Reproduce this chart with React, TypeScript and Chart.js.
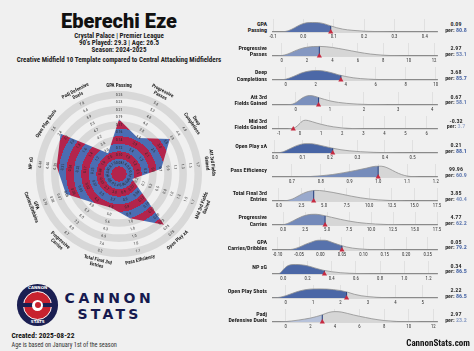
import React, { useEffect, useRef } from "react";
import { Chart, registerables } from "chart.js";

Chart.register(...registerables);

const FONT = '"Liberation Sans Narrow", "Roboto Condensed", "DejaVu Sans Condensed", Roboto, sans-serif';
const BG = "#f0f0f0";
const RING_GRAY = "#d8d8d8";
const RADAR_RED = "#b3244c";
const RADAR_BLUE = "#4b6db2";
const MARKER_RED = "#c62a40";
const CURVE_GRAY = "#d6d6d6";

// ---------------- radar data ----------------
const radarLabels = [
  "GPA Passing", "Progressive\nPasses", "Deep\nCompletions", "Att 3rd Fields\nGained",
  "Mid 3rd Fields\nGained", "Open Play xA", "Pass Efficiency", "Total Final 3rd\nEntries",
  "Progressive\nCarries", "GPA\nCarries/Dribbles", "NP xG", "Open Play Shots", "Padj Defensive\nDuels",
];
// position of the polygon on each axis (0 = centre circle edge, 100 = outer ring)
const radarPositions = [62.5, 43.7, 71.9, 46.4, 8.8, 79.9, 50.4, 35.6, 41, 65.2, 73.2, 84, 20.9];
// ring label range for each axis (innermost ring label .. outermost ring label)
const ringInner = [0.08, 1.4, 0.8, -0.1, -0.4, 0.04, 0.83, 2.4, 2.0, -0.02, 0.04, 0.8, 1.9];
const ringOuter = [0.25, 5.8, 4.8, 1.7, 1.7, 0.28, 1.06, 8.2, 8.7, 0.10, 0.44, 2.6, 7.0];
const ringDecimals = [2, 1, 1, 1, 1, 2, 1, 1, 1, 2, 2, 1, 1];
const RING_COUNT = 10;

// ---------------- distribution rows ----------------
const rowLabels = [
  "GPA\nPassing", "Progressive\nPasses", "Deep\nCompletions", "Att 3rd\nFields Gained",
  "Mid 3rd\nFields Gained", "Open Play xA", "Pass Efficiency", "Total Final 3rd\nEntries",
  "Progressive\nCarries", "GPA\nCarries/Dribbles", "NP xG", "Open Play Shots", "Padj\nDefensive Duels",
];
const valueLabels = ["0.09", "2.97", "3.68", "0.67", "-0.32", "0.21", "99.96", "3.85", "4.77", "0.05", "0.34", "2.22", "2.97"];
const markerValues = [0.09, 2.97, 3.68, 0.67, -0.32, 0.21, 0.9996, 3.85, 4.77, 0.05, 0.34, 2.22, 2.97];
const percentiles = [80.8, 53.1, 85.7, 58.1, 3.7, 88.1, 60.9, 40.4, 62.2, 79.2, 86.5, 86.5, 23.2];
const axisMin = [-0.1, -0.68, -0.85, -0.665, -1.28, -0.007, 0.634, -0.652, -1.157, -0.111, -0.085, -0.464, -1.04];
const axisMax = [0.44, 12.23, 10.09, 4.14, 6.49, 0.589, 1.204, 17.5, 17.5, 0.272, 1.27, 5.52, 12.3];
const tickLabels = [
  ["-0.1", "0.0", "0.1", "0.2", "0.3", "0.4"],
  ["0", "2", "4", "6", "8", "10", "12"],
  ["0", "2", "4", "6", "8", "10"],
  ["0", "1", "2", "3", "4"],
  ["-1", "0", "1", "2", "3", "4", "5", "6"],
  ["0.0", "0.1", "0.2", "0.3", "0.4", "0.5"],
  ["0.7", "0.8", "0.9", "1.0", "1.1", "1.2"],
  ["0.0", "2.5", "5.0", "7.5", "10.0", "12.5", "15.0", "17.5"],
  ["0.0", "2.5", "5.0", "7.5", "10.0", "12.5", "15.0", "17.5"],
  ["-0.10", "-0.05", "0.00", "0.05", "0.10", "0.15", "0.20", "0.25"],
  ["0.0", "0.2", "0.4", "0.6", "0.8", "1.0", "1.2"],
  ["0", "1", "2", "3", "4", "5"],
  ["0", "2", "4", "6", "8", "10", "12"],
];

// density curves (x = metric value, y = curve height)
const gpaPassingX = [-0.07, -0.05, -0.03, -0.01, 0.01, 0.03, 0.05, 0.07, 0.09, 0.11, 0.13, 0.16, 0.2, 0.25, 0.32];
const gpaPassingY = [0, 1.5, 5, 9, 11.3, 11.7, 11.5, 10, 7.5, 5.2, 3.5, 2.1, 1, 0.4, 0];
const progPassesX = [-0.3, 0, 0.5, 1, 1.5, 2, 2.5, 3, 3.5, 4, 4.5, 5, 5.5, 6, 6.5, 7, 7.5, 8, 9, 10];
const progPassesY = [0, 0.5, 2.5, 6, 9, 10.8, 11.6, 11.8, 11.4, 10.5, 9.2, 7.8, 6.3, 4.8, 3.5, 2.4, 1.6, 1, 0.3, 0];
const deepCompX = [-0.5, 0, 0.5, 1, 1.5, 2, 2.5, 3, 3.5, 4, 4.5, 5, 6, 7, 8];
const deepCompY = [0, 1, 4.2, 8.3, 10.8, 11.7, 11.2, 9.2, 6.5, 4.3, 2.7, 1.7, 0.7, 0.2, 0];
const att3rdX = [-0.25, -0.1, 0, 0.1, 0.2, 0.3, 0.4, 0.5, 0.6, 0.7, 0.85, 1, 1.25, 1.5, 1.8, 2.2, 2.7, 3.2];
const att3rdY = [0, 1, 2.8, 5.8, 8.8, 10.8, 11.6, 11.3, 10.2, 8.7, 6.8, 5.1, 3.2, 2, 1.1, 0.5, 0.1, 0];
const mid3rdX = [-0.6, -0.4, -0.2, 0, 0.1, 0.25, 0.4, 0.6, 0.8, 1, 1.3, 1.6, 2, 2.5, 3, 3.5];
const mid3rdY = [0, 0.5, 2.3, 7, 9.5, 10.8, 10.3, 8.8, 7.2, 5.8, 4, 2.6, 1.3, 0.5, 0.1, 0];
const openXaX = [0.01, 0.03, 0.05, 0.07, 0.09, 0.11, 0.13, 0.15, 0.17, 0.19, 0.21, 0.24, 0.27, 0.31, 0.36, 0.42, 0.48];
const openXaY = [0, 1.5, 4.5, 7.8, 10.3, 11.5, 11.5, 10.5, 9, 7.4, 5.9, 4, 2.7, 1.6, 0.8, 0.3, 0];
const passEffX = [0.72, 0.76, 0.8, 0.84, 0.88, 0.92, 0.96, 0.99, 1.01, 1.03, 1.05, 1.07, 1.09, 1.11, 1.14];
const passEffY = [0, 0.5, 1.5, 3, 5.3, 8, 11, 13.2, 13.3, 11.5, 8, 4.5, 2, 0.7, 0];
const finalEntriesX = [0.5, 1, 1.5, 2, 2.5, 3, 3.5, 4, 4.5, 5, 6, 7, 8, 9, 10, 11, 12.5, 14];
const finalEntriesY = [0, 0.8, 2.5, 5.3, 8.3, 10.8, 12.3, 13, 12.9, 12.3, 10.5, 8.3, 6, 4, 2.5, 1.4, 0.5, 0];
const progCarriesX = [-0.3, 0.2, 0.7, 1.2, 1.7, 2.2, 2.7, 3.2, 3.7, 4.2, 4.7, 5.5, 6.5, 7.5, 8.5, 9.5, 10.5, 12, 13.5];
const progCarriesY = [0, 0.8, 2.8, 5.5, 8.3, 10.7, 12.3, 13.1, 13.2, 12.6, 11.5, 9.5, 7, 4.8, 3.1, 2, 1.2, 0.5, 0];
const gpaCarriesX = [-0.08, -0.065, -0.05, -0.035, -0.02, -0.005, 0.01, 0.02, 0.03, 0.04, 0.05, 0.06, 0.075, 0.09, 0.11, 0.14, 0.17];
const gpaCarriesY = [0, 1, 3.5, 7, 10, 12, 12, 10.8, 8.8, 7, 5.3, 3.8, 2.3, 1.4, 0.7, 0.2, 0];
const npXgX = [-0.04, -0.02, 0, 0.03, 0.06, 0.1, 0.14, 0.18, 0.22, 0.26, 0.3, 0.34, 0.4, 0.47, 0.55, 0.65, 0.8, 0.9];
const npXgY = [0, 2, 5.5, 9.5, 11.3, 11.7, 11.5, 10.7, 9.3, 7.5, 5.8, 4.3, 2.8, 1.6, 0.9, 0.4, 0.1, 0];
const shotsX = [-0.45, -0.2, 0, 0.25, 0.5, 0.75, 1, 1.25, 1.5, 1.75, 2, 2.25, 2.5, 2.75, 3, 3.3, 3.7, 4.2];
const shotsY = [0, 1, 2.8, 5.8, 8.6, 10.4, 11.1, 11.2, 11, 10.3, 9.2, 7.2, 4.6, 2.8, 1.7, 0.9, 0.3, 0];
const defDuelsX = [-0.5, 0, 0.5, 1, 1.5, 2, 2.5, 3, 3.5, 4, 4.5, 5, 5.5, 6, 6.5, 7, 7.5, 8, 9, 10, 11];
const defDuelsY = [0, 0.5, 1.3, 2.3, 3.5, 4.8, 6.7, 9, 11.8, 12.8, 12.3, 10.6, 8.7, 7, 5.5, 4, 2.8, 1.8, 0.7, 0.2, 0];

const curveX = [gpaPassingX, progPassesX, deepCompX, att3rdX, mid3rdX, openXaX, passEffX, finalEntriesX, progCarriesX, gpaCarriesX, npXgX, shotsX, defDuelsX];
const curveY = [gpaPassingY, progPassesY, deepCompY, att3rdY, mid3rdY, openXaY, passEffY, finalEntriesY, progCarriesY, gpaCarriesY, npXgY, shotsY, defDuelsY];

const ROW_TOP = 32;
const ROW_STEP = 24.17;

function shade(p: number, lift = 0) {
  const t = Math.max(0, Math.min(1, lift + (1 - lift) * p / 100));
  const a = [222, 227, 237];
  const b = [52, 84, 155];
  return `rgb(${a.map((v, i) => Math.round(v + (b[i] - v) * t)).join(",")})`;
}

const radarTextPlugin = {
  id: "radarText",
  afterDatasetsDraw(chart: any) {
    const sc = chart.scales.r;
    const ctx = chart.ctx;
    const R = sc.drawingArea;
    ctx.save();
    ctx.textAlign = "center";
    ctx.textBaseline = "middle";
    radarLabels.forEach((lab, i) => {
      const ang = sc.getPointPosition(i, 0).angle;
      const upper = Math.sin(ang) < -1e-6;
      const rot = upper ? ang + Math.PI / 2 : ang - Math.PI / 2;
      ctx.font = `400 3.8px ${FONT}`;
      ctx.fillStyle = "#2a2a2a";
      for (let k = 1; k <= RING_COUNT; k++) {
        const v = ringInner[i] + ((k - 1) * (ringOuter[i] - ringInner[i])) / (RING_COUNT - 1);
        const p = sc.getPointPosition(i, sc.getDistanceFromCenterForValue(k + 0.5));
        ctx.save();
        ctx.translate(p.x, p.y);
        ctx.rotate(rot);
        ctx.fillText(v.toFixed(ringDecimals[i]), 0, 0);
        ctx.restore();
      }
      ctx.font = `700 5px ${FONT}`;
      ctx.fillStyle = "#1e1e1e";
      const lines = lab.split("\n");
      const p = sc.getPointPosition(i, R + 5.5);
      ctx.save();
      ctx.translate(p.x, p.y);
      ctx.rotate(rot);
      lines.forEach((ln, j) => {
        const ly = upper ? -(lines.length - 1 - j) * 5.4 : j * 5.4;
        ctx.fillText(ln, 0, ly);
      });
      ctx.restore();
    });
    ctx.restore();
  },
};

function Txt(props: any) {
  const { x, y, size, weight = 700, color = "#222", align = "center", lh, ls, family, children } = props;
  const tx = align === "center" ? "-50%" : align === "right" ? "-100%" : "0";
  return (
    <div
      style={{
        position: "absolute",
        left: x,
        top: y,
        transform: `translate(${tx},-50%)`,
        fontSize: size,
        fontWeight: weight,
        color,
        whiteSpace: "pre",
        lineHeight: lh ? `${lh}px` : 1.1,
        textAlign: align,
        letterSpacing: ls,
        fontFamily: family || FONT,
      }}
    >
      {children}
    </div>
  );
}

export default function App() {
  const radarRef = useRef<HTMLCanvasElement | null>(null);
  const rowRefs = useRef<(HTMLCanvasElement | null)[]>([]);

  useEffect(() => {
    document.body.style.margin = "0";
    document.body.style.background = BG;
    const charts: Chart[] = [];

    if (radarRef.current) {
      charts.push(
        new Chart(radarRef.current, {
          type: "radar",
          data: {
            labels: radarLabels.map((l) => l.replace("\n", " ")),
            datasets: [
              {
                data: radarPositions.map((p) => 1 + p / 10),
                fill: true,
                borderWidth: 0,
                pointRadius: 0,
                backgroundColor: (c: any) => {
                  const r = c.chart.scales.r;
                  if (!r || !r.drawingArea) return RADAR_RED;
                  const g = c.chart.ctx.createRadialGradient(r.xCenter, r.yCenter, 0, r.xCenter, r.yCenter, r.drawingArea);
                  const n = RING_COUNT + 1;
                  for (let k = 0; k < n; k++) {
                    const col = k % 2 === 0 ? RADAR_RED : RADAR_BLUE;
                    g.addColorStop(k / n, col);
                    g.addColorStop((k + 1) / n, col);
                  }
                  return g;
                },
              } as any,
            ],
          },
          options: {
            animation: false,
            responsive: false,
            maintainAspectRatio: false,
            layout: { padding: { left: 36, right: 38, top: 21, bottom: 23 } },
            plugins: { legend: { display: false }, tooltip: { enabled: false } },
            scales: {
              r: {
                min: 0,
                max: RING_COUNT + 1,
                ticks: { display: false },
                pointLabels: { display: false },
                angleLines: { display: false },
                grid: { circular: true, color: RING_GRAY, lineWidth: 83 / 11 },
                afterBuildTicks: (s: any) => {
                  s.ticks = [0, 2.5, 4.5, 6.5, 8.5, 10.5].map((v) => ({ value: v }));
                },
              } as any,
            },
          },
          plugins: [radarTextPlugin],
        })
      );
    }

    rowRefs.current.forEach((cv, i) => {
      if (!cv) return;
      const mv = markerValues[i];
      const blue = shade(percentiles[i]);
      const tickVals = tickLabels[i].map((t) => parseFloat(t));
      const lo = axisMin[i];
      const hi = axisMax[i];
      const valueLine = {
        id: "valueLine" + i,
        afterDatasetDraw(chart: any, args: any) {
          if (args.index !== 1) return;
          const line = args.meta.dataset;
          const pts = args.meta.data;
          if (!line || !pts.length) return;
          const ctx = chart.ctx;
          const { bottom, top } = chart.chartArea;
          const x = chart.scales.x.getPixelForValue(mv);
          ctx.save();
          ctx.beginPath();
          line.path(ctx);
          ctx.lineTo(pts[pts.length - 1].x, bottom);
          ctx.lineTo(pts[0].x, bottom);
          ctx.closePath();
          ctx.clip();
          ctx.beginPath();
          ctx.moveTo(x, bottom);
          ctx.lineTo(x, top);
          ctx.strokeStyle = "#2d4680";
          ctx.lineWidth = 1.1;
          ctx.stroke();
          ctx.restore();
        },
      };
      charts.push(
        new Chart(cv, {
          type: "line",
          data: {
            datasets: [
              {
                data: [{ x: mv, y: 0 }],
                showLine: false,
                pointStyle: "triangle",
                pointRadius: 3,
                pointBackgroundColor: MARKER_RED,
                pointBorderWidth: 0,
                clip: false,
              } as any,
              {
                data: curveX[i].map((x, j) => ({ x, y: curveY[i][j] })),
                fill: "origin",
                borderColor: "#8f8f8f",
                borderWidth: 0.8,
                pointRadius: 0,
                cubicInterpolationMode: "monotone",
                backgroundColor: (c: any) => {
                  const ch = c.chart;
                  const a = ch.chartArea;
                  if (!a || !ch.scales.x) return CURVE_GRAY;
                  const px = ch.scales.x.getPixelForValue(mv);
                  const f = Math.max(0, Math.min(1, (px - a.left) / (a.right - a.left)));
                  const g = ch.ctx.createLinearGradient(a.left, 0, a.right, 0);
                  g.addColorStop(0, blue);
                  g.addColorStop(f, blue);
                  g.addColorStop(f, CURVE_GRAY);
                  g.addColorStop(1, CURVE_GRAY);
                  return g;
                },
              } as any,
            ],
          },
          options: {
            animation: false,
            responsive: false,
            maintainAspectRatio: false,
            layout: { padding: { left: 15, right: 11, top: 1, bottom: 0 } },
            plugins: { legend: { display: false }, tooltip: { enabled: false } },
            scales: {
              x: {
                type: "linear",
                min: lo,
                max: hi,
                afterBuildTicks: (s: any) => {
                  s.ticks = tickVals.filter((v) => v >= lo - 1e-9 && v <= hi + 1e-9).map((v) => ({ value: v }));
                },
                afterFit: (s: any) => {
                  s.height = 10;
                },
                ticks: {
                  autoSkip: false,
                  maxRotation: 0,
                  padding: 1.5,
                  color: "#333",
                  font: { family: FONT, size: 4.8 },
                  callback: (v: any) => {
                    const idx = tickVals.findIndex((t) => Math.abs(t - v) < 1e-9);
                    return idx >= 0 ? tickLabels[i][idx] : "";
                  },
                },
                grid: { color: "#dcdcdc", lineWidth: 0.8, drawTicks: false },
                border: { color: "#8a8a8a", width: 1.2 },
              } as any,
              y: { display: false, min: 0, max: 16 },
            },
          },
          plugins: [valueLine],
        })
      );
    });

    return () => charts.forEach((c) => c.destroy());
  }, []);

  return (
    <div style={{ position: "relative", width: 474, height: 351, background: BG, overflow: "hidden", fontFamily: FONT }}>
      {/* header */}
      <Txt x={119} y={21} size={20} weight={900} color="#111" family='Roboto, "Liberation Sans", sans-serif'>Eberechi Eze</Txt>
      <Txt x={119} y={37} size={7} color="#222">Crystal Palace | Premier League</Txt>
      <Txt x={119} y={44} size={7} color="#222">90's Played: 29.3 | Age: 26.5</Txt>
      <Txt x={119} y={50.5} size={7} color="#222">Season: 2024-2025</Txt>
      <Txt x={119} y={60.5} size={7} color="#222">Creative Midfield 10 Template compared to Central Attacking Midfielders</Txt>

      <canvas ref={radarRef} width={240} height={210} style={{ position: "absolute", left: 0, top: 70, width: 240, height: 210 }} />

      {/* logo */}
      <div style={{ position: "absolute", left: 17, top: 284.3, width: 41.4, height: 41.4, borderRadius: "50%", background: "#1b1f52" }} />
      <div style={{ position: "absolute", left: 23.2, top: 290.5, width: 27, height: 27, borderRadius: "50%", background: "#c8222f", border: "1px solid #fff" }} />
      <div style={{ position: "absolute", left: 22, top: 302.5, width: 31, height: 4, background: "#1b1f52" }} />
      <div style={{ position: "absolute", left: 32, top: 299.5, width: 11, height: 11, borderRadius: "50%", background: "#fff" }} />
      <div style={{ position: "absolute", left: 34.5, top: 302, width: 6, height: 6, borderRadius: "50%", background: "#c8222f" }} />
      <Txt x={37.7} y={288} size={4} color="#fff" family='"DejaVu Sans", sans-serif'>CANNON</Txt>
      <Txt x={37.7} y={322} size={4} color="#fff" family='"DejaVu Sans", sans-serif'>STATS</Txt>
      <Txt x={109.5} y={298.5} size={14} weight={700} color="#161a4f" ls={3.6} family='"DejaVu Sans", sans-serif'>CANNON</Txt>
      <Txt x={109.5} y={315} size={14} weight={700} color="#161a4f" ls={3.2} family='"DejaVu Sans", sans-serif'>STATS</Txt>

      <Txt x={11.5} y={336} size={7.5} align="left" color="#111">Created: 2025-08-22</Txt>
      <Txt x={11.5} y={345} size={6.3} weight={400} align="left" color="#333">Age is based on January 1st of the season</Txt>

      {/* distribution rows */}
      {rowLabels.map((lab, i) => {
        const b = ROW_TOP + i * ROW_STEP;
        const two = lab.includes("\n");
        return (
          <React.Fragment key={i}>
            <Txt x={267} y={two ? b - 5 : b - 7} size={6} align="right" lh={6.2} color="#222">{lab}</Txt>
            <canvas
              ref={(el) => { rowRefs.current[i] = el; }}
              width={190}
              height={27}
              style={{ position: "absolute", left: 258, top: b - 17, width: 190, height: 27 }}
            />
            <Txt x={456} y={b - 8} size={6} color="#333">{valueLabels[i]}</Txt>
            <Txt x={456} y={b - 2.3} size={6} color="#333">
              per: <span style={{ color: shade(percentiles[i], 0.3) }}>{percentiles[i]}</span>
            </Txt>
          </React.Fragment>
        );
      })}

      <Txt x={470} y={344} size={9} weight={700} align="right" color="#111">CannonStats.com</Txt>
    </div>
  );
}
